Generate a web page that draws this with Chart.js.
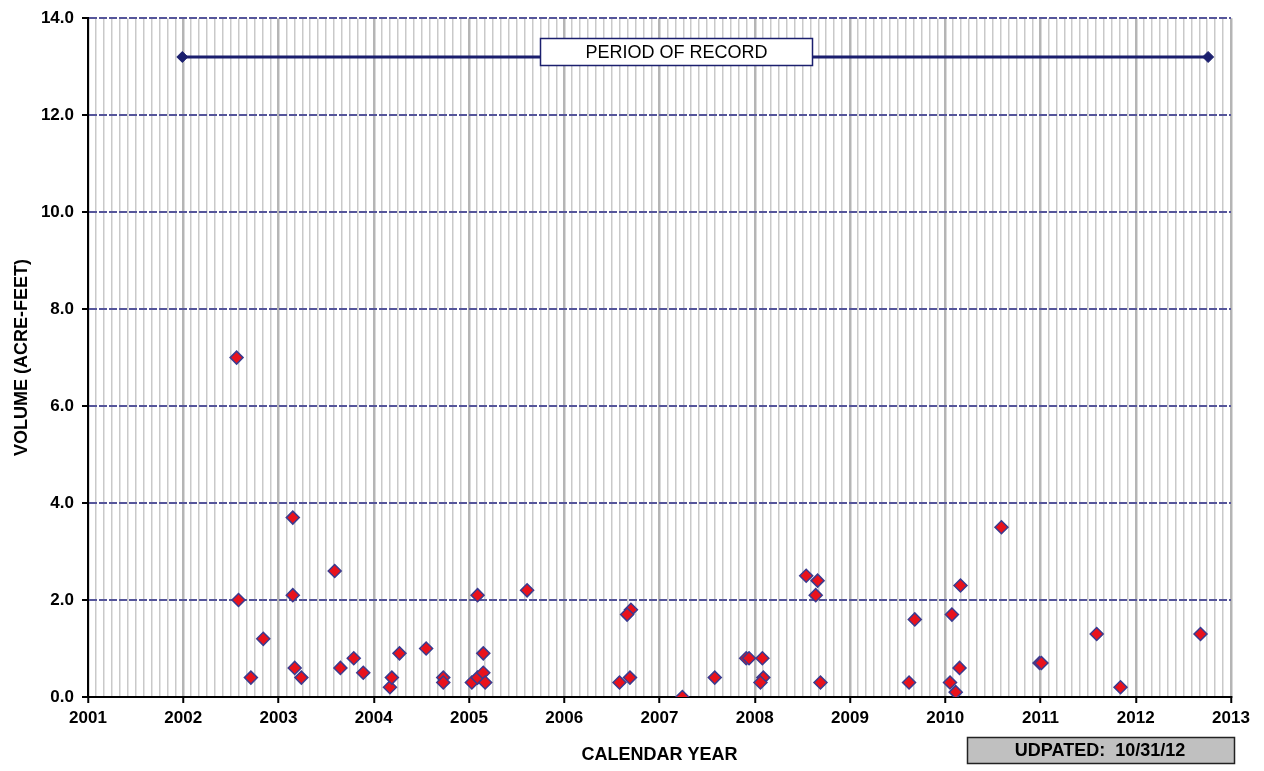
<!DOCTYPE html>
<html>
<head>
<meta charset="utf-8">
<script src="https://cdn.jsdelivr.net/npm/chart.js@4.4.1/dist/chart.umd.min.js"></script>
<style>
  html, body { margin: 0; padding: 0; background: #ffffff; }
  #wrap { width: 1264px; height: 771px; position: relative; }
</style>
</head>
<body>
<div id="wrap"><canvas id="c" width="1264" height="771"></canvas></div>
<script>
// ---- data (decimal calendar year, volume in acre-feet) ----
const sampleDates = [
  2002.56, 2002.58, 2002.71, 2002.84, 2003.15, 2003.15, 2003.17, 2003.24,
  2003.59, 2003.65, 2003.79, 2003.89, 2004.17, 2004.19, 2004.27, 2004.55,
  2004.73, 2004.73, 2005.03, 2005.09, 2005.09, 2005.15, 2005.15, 2005.17,
  2005.61, 2006.70, 2006.66, 2006.58, 2006.69, 2007.24, 2007.58, 2007.91,
  2007.94, 2008.08, 2008.09, 2008.06, 2008.54, 2008.66, 2008.64, 2008.69,
  2009.62, 2009.68, 2010.05, 2010.07, 2010.11, 2010.15, 2010.16, 2010.59,
  2010.99, 2011.01, 2011.59, 2011.84, 2012.68
];
const sampleVolumes = [
  7.0, 2.0, 0.4, 1.2, 3.7, 2.1, 0.6, 0.4,
  2.6, 0.6, 0.8, 0.5, 0.2, 0.4, 0.9, 1.0,
  0.4, 0.3, 0.3, 2.1, 0.4, 0.9, 0.5, 0.3,
  2.2, 1.8, 1.7, 0.3, 0.4, 0.0, 0.4, 0.8,
  0.8, 0.8, 0.4, 0.3, 2.5, 2.4, 2.1, 0.3,
  0.3, 1.6, 0.3, 1.7, 0.1, 0.6, 2.3, 3.5,
  0.7, 0.7, 1.3, 0.2, 1.3
];
const recordDates = [2001.99, 2012.76];
const recordLevel = [13.2, 13.2];
const yearLabels = ['2001','2002','2003','2004','2005','2006','2007','2008','2009','2010','2011','2012','2013'];
const yTickValues = [0, 2, 4, 6, 8, 10, 12, 14];
const periodText = 'PERIOD OF RECORD';
const updatedText = 'UDPATED:  10/31/12';
const xTitle = 'CALENDAR YEAR';
const yTitle = 'VOLUME (ACRE-FEET)';

const FONT = "'Liberation Sans', Arial, sans-serif";
const NAVY = '#1b1f6e';

const boxesPlugin = {
  id: 'boxes',
  afterDatasetsDraw(chart) {
    const ctx = chart.ctx;
    ctx.save();
    ctx.fillStyle = '#ffffff';
    ctx.fillRect(540, 38, 273, 28);
    ctx.strokeStyle = NAVY;
    ctx.lineWidth = 1.5;
    ctx.strokeRect(540.5, 38.5, 272, 27);
    ctx.fillStyle = '#000000';
    ctx.font = "18px " + FONT;
    ctx.textAlign = 'center';
    ctx.textBaseline = 'middle';
    ctx.fillText(periodText, 676.5, 53);
    ctx.restore();
  },
  afterDraw(chart) {
    const ctx = chart.ctx;
    ctx.save();
    ctx.fillStyle = '#c0c0c0';
    ctx.fillRect(967, 737, 268, 27);
    ctx.strokeStyle = '#222222';
    ctx.lineWidth = 1.5;
    ctx.strokeRect(967.5, 737.5, 267, 26);
    ctx.fillStyle = '#000000';
    ctx.font = "bold 18px " + FONT;
    ctx.textAlign = 'center';
    ctx.textBaseline = 'middle';
    ctx.fillText(updatedText, 1100, 751);
    ctx.restore();
  }
};

const points = sampleDates.map((d, i) => ({ x: d, y: sampleVolumes[i] }));
const recordPts = recordDates.map((d, i) => ({ x: d, y: recordLevel[i] }));

new Chart(document.getElementById('c'), {
  type: 'scatter',
  data: {
    datasets: [
      {
        type: 'line',
        data: recordPts,
        borderColor: NAVY,
        borderWidth: 3,
        backgroundColor: NAVY,
        pointStyle: 'rectRot',
        pointRadius: 5.5,
        pointBorderWidth: 1,
        pointBorderColor: NAVY,
        showLine: true,
        fill: false
      },
      {
        data: points,
        pointStyle: 'rectRot',
        pointRadius: 6.5,
        pointBackgroundColor: '#e8121c',
        pointBorderColor: '#3b3b8f',
        pointBorderWidth: 1.5
      }
    ]
  },
  options: {
    responsive: false,
    devicePixelRatio: 1,
    animation: false,
    layout: { padding: { top: 17, right: 33, bottom: 0, left: 0 } },
    plugins: { legend: { display: false }, tooltip: { enabled: false } },
    scales: {
      x: {
        type: 'linear',
        position: 'bottom',
        min: 2001,
        max: 2013,
        afterBuildTicks(scale) {
          const t = [];
          for (let i = 0; i <= (yearLabels.length - 1) * 12; i++) t.push({ value: 2001 + i / 12 });
          scale.ticks = t;
        },
        afterFit(scale) { scale.height = 74; },
        ticks: {
          autoSkip: false,
          maxRotation: 0,
          minRotation: 0,
          padding: 5,
          color: '#000000',
          font: { family: FONT, size: 17, weight: 'bold' },
          callback: (v, i) => (i % 12 === 0 ? yearLabels[i / 12] : '')
        },
        grid: {
          drawOnChartArea: true,
          color: c => (c.index % 12 === 0 ? '#b5b5b5' : '#c9c9c9'),
          lineWidth: c => (c.index % 12 === 0 ? 2.5 : 1.5),
          tickColor: c => (c.index % 12 === 0 ? '#000000' : 'rgba(0,0,0,0)'),
          tickLength: 6,
          tickWidth: 2
        },
        border: { display: true, color: '#000000', width: 2 },
        title: {
          display: true,
          text: xTitle,
          color: '#000000',
          font: { family: FONT, size: 18, weight: 'bold' },
          padding: { top: 0, bottom: 5 }
        }
      },
      y: {
        min: 0,
        max: 14,
        afterBuildTicks(scale) { scale.ticks = yTickValues.map(v => ({ value: v })); },
        afterFit(scale) { scale.width = 88; },
        ticks: {
          padding: 8,
          color: '#000000',
          font: { family: FONT, size: 17, weight: 'bold' },
          callback: v => Number(v).toFixed(1)
        },
        grid: {
          color: c => (c.tick && c.tick.value === 0 ? 'rgba(0,0,0,0)' : '#55559a'),
          lineWidth: 2,
          tickColor: '#000000',
          tickLength: 6,
          tickWidth: 2
        },
        border: { display: true, color: '#000000', width: 2, dash: [8, 2] },
        title: {
          display: true,
          text: yTitle,
          color: '#000000',
          font: { family: FONT, size: 18, weight: 'bold' },
          padding: { top: 11, bottom: 0 }
        }
      }
    }
  },
  plugins: [boxesPlugin]
});
</script>
</body>
</html>
